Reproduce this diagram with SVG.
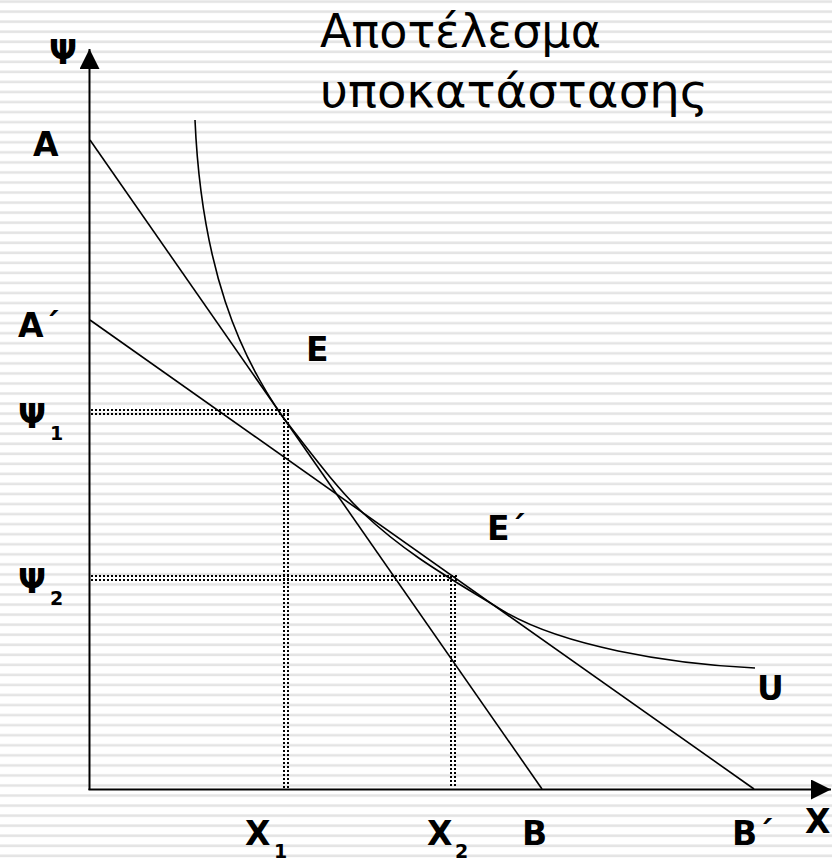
<svg xmlns="http://www.w3.org/2000/svg" width="832" height="862" viewBox="0 0 832 862">
  <defs>
    <pattern id="stripes" x="0" y="0" width="832" height="10.05" patternUnits="userSpaceOnUse">
      <rect x="0" y="0.3" width="832" height="2.6" fill="#e4e4e4"/>
    </pattern>
    <marker id="arrow" markerWidth="20" markerHeight="20" viewBox="0 0 20 20" refX="20" refY="10" orient="auto" markerUnits="userSpaceOnUse">
      <path d="M0,0 L20,10 L0,20 Z" fill="#000"/>
    </marker>
    <style>
      .lbl { font-family: "DejaVu Sans", Verdana, sans-serif; font-weight: bold; font-size: 33px; fill: #000; }
      .sub { font-family: "DejaVu Sans", Verdana, sans-serif; font-weight: bold; font-size: 19px; fill: #000; }
      .title { font-family: "DejaVu Sans", Verdana, sans-serif; font-size: 46px; fill: #000; }
      .axis { stroke: #000; stroke-width: 2; fill: none; }
      .line { stroke: #000; stroke-width: 1.6; fill: none; }
      .dot { stroke: #000; stroke-width: 2; stroke-dasharray: 2 2; fill: none; shape-rendering: crispEdges; }
    </style>
  </defs>
  <rect width="832" height="862" fill="#ffffff"/>
  <rect width="832" height="862" fill="url(#stripes)"/>

  <g id="title">
    <text class="title" x="320" y="47" textLength="281" lengthAdjust="spacingAndGlyphs">Αποτέλεσμα</text>
    <text class="title" x="320" y="107" textLength="388" lengthAdjust="spacingAndGlyphs">υποκατάστασης</text>
  </g>

  <g id="connectors">
    <g id="axes">
      <path class="axis" d="M89.5,790 L89.5,49" marker-end="url(#arrow)"/>
      <path class="axis" d="M88.5,789.5 L831,789.5" marker-end="url(#arrow)"/>
    </g>
    <g id="budget-lines">
      <path id="line-AB" class="line" d="M90,140 L542,789"/>
      <path id="line-A2B2" class="line" d="M90,320 L754,789"/>
    </g>
    <g id="indifference-curve">
      <path class="line" d="M195,120 C201.5,270 240.3,356 282,416 C310,451.8 336,487.3 363,513 C408,555.75 455,581.1 500,609 C560,646.2 670,664 755,668"/>
    </g>
    <g id="guides">
      <path class="dot" d="M91,410 L289,410 M91,414 L289,414"/>
      <path class="dot" d="M284,410 L284,788 M288,410 L288,788"/>
      <path class="dot" d="M91,576 L457,576 M91,580 L457,580"/>
      <path class="dot" d="M451,576 L451,788 M455,576 L455,788"/>
    </g>
  </g>

  <g id="label-Y"><text class="lbl" x="49" y="64">Ψ</text></g>
  <g id="label-A"><text class="lbl" x="33" y="156">A</text></g>
  <g id="label-A2"><text class="lbl" x="18" y="337">A´</text></g>
  <g id="label-Y1"><text class="lbl" x="18" y="428">Ψ</text><text class="sub" x="50" y="440">1</text></g>
  <g id="label-Y2"><text class="lbl" x="18" y="593">Ψ</text><text class="sub" x="50" y="605">2</text></g>
  <g id="label-E"><text class="lbl" x="306" y="361">E</text></g>
  <g id="label-E2"><text class="lbl" x="487" y="540">E´</text></g>
  <g id="label-U"><text class="lbl" x="757" y="700">U</text></g>
  <g id="label-X1"><text class="lbl" x="245" y="845">X</text><text class="sub" x="274" y="858">1</text></g>
  <g id="label-X2"><text class="lbl" x="427" y="845">X</text><text class="sub" x="455" y="858">2</text></g>
  <g id="label-B"><text class="lbl" x="522" y="845">B</text></g>
  <g id="label-B2"><text class="lbl" x="732" y="845">B´</text></g>
  <g id="label-X"><text class="lbl" x="805" y="833">X</text></g>
</svg>
